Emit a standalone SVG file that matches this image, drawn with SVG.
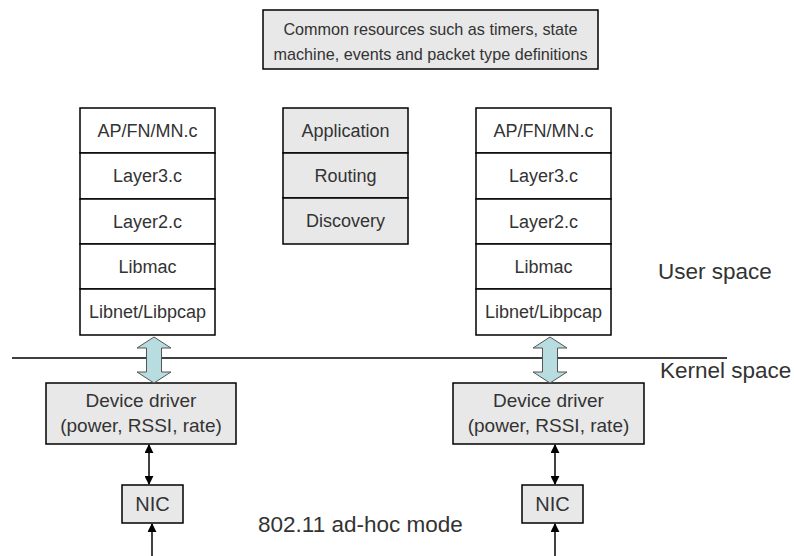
<svg xmlns="http://www.w3.org/2000/svg" width="794" height="556" viewBox="0 0 794 556">
<style>
.box{stroke:#000;stroke-width:1.5}
.w{fill:#fff}
.g{fill:#e8e8e8}
text{font-family:"Liberation Sans",Arial,sans-serif;fill:#333;font-size:18px}
.c{text-anchor:middle}
.top{font-size:16.2px}
.drv{font-size:19px}
.nic{font-size:20px}
.lbl{font-size:22.5px}
.ln{stroke:#000;stroke-width:1.5;fill:none}
.dbl{fill:#b7dde0;stroke:#555;stroke-width:1}
</style>
<defs>
<marker id="ah" viewBox="0 0 10 10" refX="9" refY="5" markerWidth="9" markerHeight="9" markerUnits="userSpaceOnUse" orient="auto-start-reverse">
<path d="M0,0 L10,5 L0,10 z" fill="#000"/>
</marker>
</defs>

<g id="common">
<rect class="box g" x="263" y="10" width="335" height="59"/>
<text class="c top" x="430.5" y="35">Common resources such as timers, state</text>
<text class="c top" x="430.5" y="60">machine, events and packet type definitions</text>
</g>

<g id="stack-left">
<rect class="box w" x="80" y="108" width="135" height="45"/>
<rect class="box w" x="80" y="153" width="135" height="46"/>
<rect class="box w" x="80" y="199" width="135" height="45"/>
<rect class="box w" x="80" y="244" width="135" height="45"/>
<rect class="box w" x="80" y="289" width="135" height="46"/>
<text class="c" x="147.5" y="137">AP/FN/MN.c</text>
<text class="c" x="147.5" y="182">Layer3.c</text>
<text class="c" x="147.5" y="228">Layer2.c</text>
<text class="c" x="147.5" y="273">Libmac</text>
<text class="c" x="147.5" y="318">Libnet/Libpcap</text>
</g>

<g id="stack-middle">
<rect class="box g" x="283" y="108" width="125" height="45"/>
<rect class="box g" x="283" y="153" width="125" height="45"/>
<rect class="box g" x="283" y="198" width="125" height="46"/>
<text class="c" x="345.5" y="137">Application</text>
<text class="c" x="345.5" y="182">Routing</text>
<text class="c" x="345.5" y="227">Discovery</text>
</g>

<g id="stack-right">
<rect class="box w" x="476" y="108" width="135" height="45"/>
<rect class="box w" x="476" y="153" width="135" height="46"/>
<rect class="box w" x="476" y="199" width="135" height="45"/>
<rect class="box w" x="476" y="244" width="135" height="45"/>
<rect class="box w" x="476" y="289" width="135" height="46"/>
<text class="c" x="543.5" y="137">AP/FN/MN.c</text>
<text class="c" x="543.5" y="182">Layer3.c</text>
<text class="c" x="543.5" y="228">Layer2.c</text>
<text class="c" x="543.5" y="273">Libmac</text>
<text class="c" x="543.5" y="318">Libnet/Libpcap</text>
</g>

<g id="boundary">
<line class="ln" x1="12" y1="358" x2="727" y2="358"/>
<text class="lbl" x="658" y="279">User space</text>
<text class="lbl" x="660" y="378">Kernel space</text>
</g>

<g id="driver-left">
<rect class="box g" x="46" y="383" width="190" height="61"/>
<text class="c drv" x="141" y="407">Device driver</text>
<text class="c drv" x="141" y="432">(power, RSSI, rate)</text>
</g>
<g id="driver-right">
<rect class="box g" x="453" y="383" width="191" height="61"/>
<text class="c drv" x="548.5" y="407">Device driver</text>
<text class="c drv" x="548.5" y="432">(power, RSSI, rate)</text>
</g>

<g id="nic-left">
<rect class="box g" x="122" y="485" width="61" height="38"/>
<text class="c nic" x="152.5" y="511">NIC</text>
</g>
<g id="nic-right">
<rect class="box g" x="522" y="485" width="61" height="38"/>
<text class="c nic" x="552.5" y="511">NIC</text>
</g>

<text class="lbl" x="258" y="532">802.11 ad-hoc mode</text>

<g id="connectors">
<path class="dbl" d="M154,337 L171,348 L161.5,348 L161.5,372 L171,372 L154,383 L137,372 L146.5,372 L146.5,348 L137,348 Z"/>
<path class="dbl" d="M550,337 L567,348 L557.5,348 L557.5,372 L567,372 L550,383 L533,372 L542.5,372 L542.5,348 L533,348 Z"/>
<line class="ln" x1="149" y1="445" x2="149" y2="484" marker-start="url(#ah)" marker-end="url(#ah)"/>
<line class="ln" x1="555" y1="445" x2="555" y2="484" marker-start="url(#ah)" marker-end="url(#ah)"/>
<line class="ln" x1="152" y1="556" x2="152" y2="524" marker-end="url(#ah)"/>
<line class="ln" x1="555" y1="556" x2="555" y2="524" marker-end="url(#ah)"/>
</g>
</svg>
